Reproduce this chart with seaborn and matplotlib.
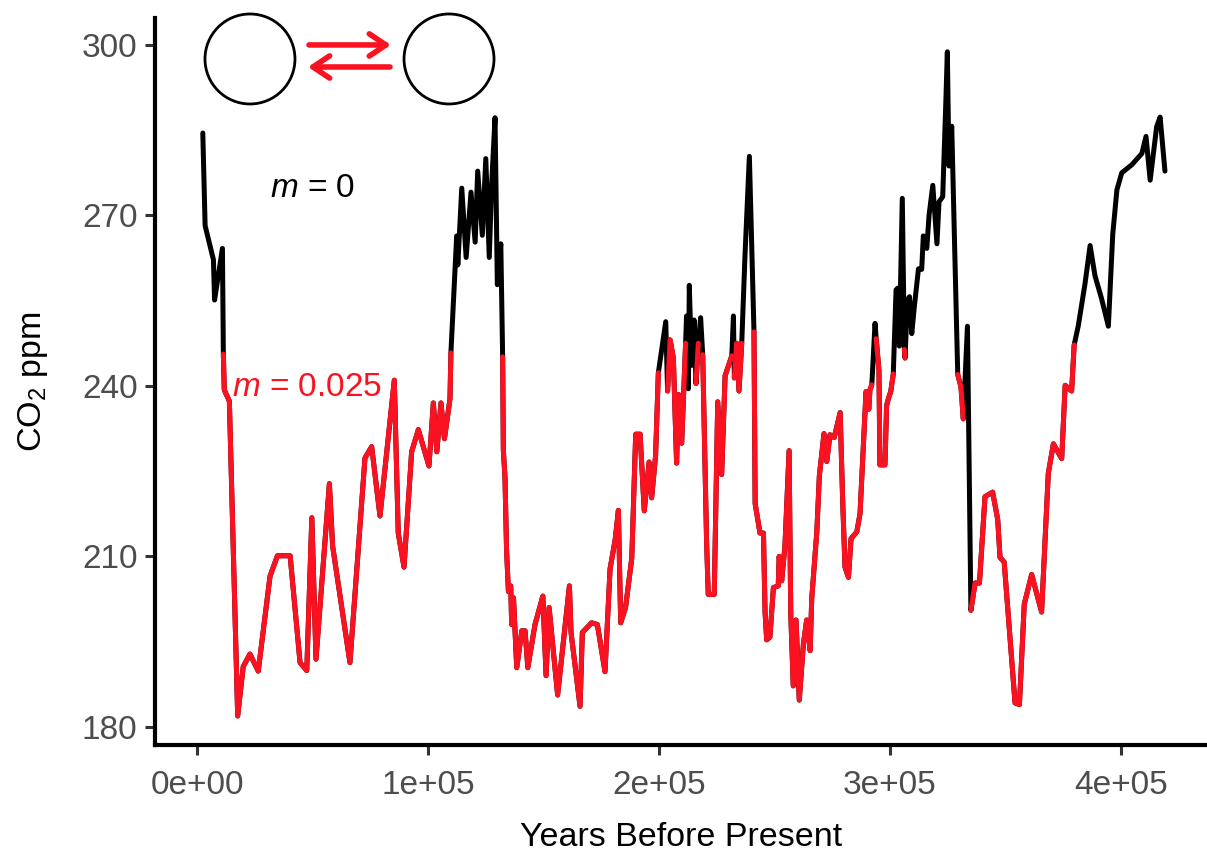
import numpy as np
import pandas as pd
import matplotlib
matplotlib.use("Agg")
import matplotlib.pyplot as plt
from matplotlib.patches import Ellipse
import seaborn as sns

# Ice-core CO2 record: gas age (thousands of years before present) and CO2 (ppm)
years_kyr = [
    2.5, 3.5, 7.1, 7.6, 11.0, 11.4, 11.8, 14.0, 17.6, 20.0,
    22.9, 26.5, 31.6, 34.8, 40.3, 44.6, 47.5, 49.7, 51.5, 57.3,
    58.7, 66.2, 72.7, 75.6, 79.2, 85.4, 87.1, 89.6, 92.9, 95.8,
    100.4, 102.3, 103.8, 105.6, 107.1, 109.5, 109.9, 112.4, 112.9, 114.6,
    116.5, 118.6, 120.4, 121.5, 123.5, 125.0, 126.5, 127.6, 129.0, 130.0,
    131.5, 132.3, 132.6, 133.3, 134.0, 134.8, 135.8, 136.2, 137.0, 138.4,
    140.6, 142.0, 143.2, 146.3, 149.7, 151.1, 152.4, 156.1, 161.2, 161.9,
    165.8, 166.8, 170.8, 173.3, 176.6, 178.8, 181.0, 182.4, 183.4, 185.5,
    188.2, 189.9, 191.8, 193.6, 195.7, 196.8, 198.5, 199.7, 202.9, 203.7,
    204.8, 206.2, 207.6, 208.4, 209.8, 211.5, 211.9, 212.7, 213.1, 214.1,
    215.2, 216.0, 217.0, 218.0, 218.9, 220.6, 221.3, 223.9, 225.4, 227.1,
    228.6, 231.5, 232.2, 232.6, 233.6, 234.6, 235.8, 237.2, 239.1, 241.1,
    241.6, 243.7, 245.2, 245.9, 246.6, 248.0, 249.5, 251.6, 252.0, 253.1,
    254.5, 256.3, 257.0, 258.1, 259.3, 260.7, 262.5, 263.9, 265.4, 266.1,
    268.3, 269.4, 271.4, 272.6, 274.0, 275.8, 278.4, 279.5, 280.5, 282.0,
    283.1, 285.6, 287.0, 289.6, 290.8, 291.3, 292.1, 293.5, 294.0, 295.2,
    295.6, 297.8, 298.5, 299.3, 300.3, 301.4, 302.6, 303.3, 304.0, 305.3,
    306.2, 306.5, 307.5, 308.4, 309.4, 310.5, 312.3, 313.7, 314.4, 315.9,
    316.9, 318.5, 320.3, 321.2, 322.8, 324.1, 324.8, 325.5, 326.7, 329.3,
    330.7, 331.7, 333.5, 335.0, 336.8, 338.7, 341.1, 344.4, 346.6, 347.6,
    349.4, 354.1, 356.0, 358.1, 361.3, 365.6, 368.5, 370.7, 374.3, 375.8,
    378.6, 379.7, 381.5, 384.4, 386.6, 388.7, 391.6, 394.5, 396.4, 398.2,
    400.3, 404.6, 409.0, 410.8, 412.6, 415.4, 416.9, 419.0,
]
co2_ppm = [
    284.5, 268.2, 262.2, 255.1, 264.2, 245.6, 239.3, 237.3, 181.9, 190.6,
    192.8, 189.8, 206.5, 210.1, 210.1, 191.3, 189.9, 216.8, 191.9, 222.8,
    211.8, 191.3, 227.3, 229.3, 217.1, 241.0, 214.1, 208.1, 228.4, 232.3,
    225.9, 237.0, 228.4, 237.0, 230.7, 237.7, 245.8, 266.4, 261.3, 274.8,
    262.6, 274.1, 265.3, 277.8, 266.5, 280.0, 262.6, 275.9, 287.2, 257.8,
    265.0, 245.1, 228.7, 224.0, 211.0, 203.8, 204.8, 198.0, 202.7, 190.4,
    196.9, 196.9, 190.4, 198.0, 203.0, 189.0, 201.0, 185.6, 204.8, 196.6,
    183.6, 196.6, 198.3, 198.0, 189.7, 207.8, 212.9, 218.1, 198.3, 201.0,
    209.7, 231.5, 231.5, 218.0, 226.6, 220.3, 227.7, 242.3, 251.3, 239.1,
    248.1, 244.9, 226.4, 238.5, 229.9, 247.5, 252.3, 239.5, 257.7, 243.6,
    251.6, 240.4, 247.5, 252.0, 245.5, 212.3, 203.3, 203.3, 237.2, 224.4,
    241.8, 245.3, 252.3, 241.4, 247.5, 239.1, 247.5, 262.9, 280.4, 249.5,
    219.3, 214.1, 214.1, 200.1, 195.3, 195.8, 204.5, 204.8, 210.0, 205.7,
    211.8, 228.6, 200.1, 187.2, 198.8, 184.7, 194.6, 198.8, 193.4, 202.6,
    214.3, 224.2, 231.6, 226.7, 231.4, 230.9, 235.3, 219.6, 208.1, 206.3,
    213.1, 214.3, 217.5, 239.0, 235.9, 239.3, 240.2, 251.0, 248.3, 242.7,
    226.1, 226.1, 236.5, 237.8, 239.0, 242.1, 256.9, 257.2, 247.0, 273.0,
    246.4, 244.9, 255.1, 255.7, 249.2, 253.9, 260.6, 260.5, 266.4, 264.2,
    270.1, 275.3, 265.0, 272.4, 273.3, 289.4, 298.8, 278.7, 285.7, 242.0,
    239.8, 234.2, 250.5, 200.5, 205.3, 205.3, 220.5, 221.3, 216.5, 209.8,
    209.0, 184.2, 183.9, 201.6, 206.8, 200.2, 224.6, 229.8, 227.2, 240.1,
    239.1, 247.2, 250.6, 258.0, 264.7, 259.4, 255.3, 250.5, 266.7, 274.5,
    277.5, 278.9, 280.9, 283.9, 276.2, 285.6, 287.3, 277.8,
]

x_ticks = [0, 100000, 200000, 300000, 400000]
x_tick_labels = ["0e+00", "1e+05", "2e+05", "3e+05", "4e+05"]
y_ticks = [180, 210, 240, 270, 300]

# level below which the record is traced as the m = 0.025 regime
CUTOFF = 250.0

RED = "#FC1121"
TICK_GREY = "#4D4D4D"
LINE_W = 3.6

sns.set_theme(style="ticks")
plt.rcParams["font.family"] = ["Liberation Sans", "DejaVu Sans"]
plt.rcParams["mathtext.fontset"] = "custom"
plt.rcParams["mathtext.rm"] = "Liberation Sans"
plt.rcParams["mathtext.it"] = "Liberation Sans:italic"
plt.rcParams["lines.solid_joinstyle"] = "round"

df = pd.DataFrame({"year": np.array(years_kyr) * 1000.0, "co2": co2_ppm})
low = df["co2"] <= CUTOFF
df["run"] = (low != low.shift()).cumsum()
low_df = df[low]

fig = plt.figure(figsize=(12.07, 8.56), dpi=100)
ax = fig.add_axes([0.1284, 0.1297, 0.8716, 0.8493])

sns.lineplot(data=df, x="year", y="co2", color="black", lw=LINE_W,
             estimator=None, sort=False, ax=ax)
sns.lineplot(data=low_df, x="year", y="co2", units="run", color=RED,
             lw=LINE_W, estimator=None, sort=False, ax=ax, legend=False)

ax.set_xlim(-18200, 437200)
ax.set_ylim(176.8, 304.75)
ax.set_xticks(x_ticks)
ax.set_xticklabels(x_tick_labels)
ax.set_yticks(y_ticks)
ax.set_yticklabels([str(v) for v in y_ticks])

for side in ("top", "right"):
    ax.spines[side].set_visible(False)
for side in ("left", "bottom"):
    ax.spines[side].set_linewidth(3.0)
    ax.spines[side].set_color("black")
    ax.spines[side].set_capstyle("projecting")
ax.tick_params(axis="both", length=7.5, width=2.2, color="#333333",
               labelsize=24, labelcolor=TICK_GREY)
ax.tick_params(axis="x", pad=10.5)
ax.tick_params(axis="y", pad=5)

ax.set_xlabel("Years Before Present", fontsize=24.5, color="black", labelpad=15)
ax.set_ylabel("CO$_2$ ppm", fontsize=24.5, color="black", labelpad=23)

# two-state schematic: a pair of boxes exchanging in both directions
for cx in (0.0903, 0.2795):
    ax.add_patch(Ellipse((cx, 0.9436), width=90 / 1052, height=90 / 727,
                         transform=ax.transAxes, fill=False,
                         edgecolor="black", lw=2.0, clip_on=False))
arrow_style = dict(arrowstyle="->,head_length=0.6,head_width=0.4",
                   color=RED, lw=4.0, mutation_scale=20,
                   shrinkA=0, shrinkB=0)
ax.annotate("", xy=(0.2243, 0.9629), xytext=(0.1464, 0.9629),
            xycoords="axes fraction", textcoords="axes fraction",
            arrowprops=arrow_style)
ax.annotate("", xy=(0.1454, 0.9326), xytext=(0.2234, 0.9326),
            xycoords="axes fraction", textcoords="axes fraction",
            arrowprops=arrow_style)

ax.text(0.150, 0.766, "$m$ = 0", transform=ax.transAxes, fontsize=24,
        color="black", ha="center", va="center")
ax.text(0.0732, 0.4924, "$m$ = 0.025", transform=ax.transAxes, fontsize=24,
        color=RED, ha="left", va="center")

fig.savefig("out.png", dpi=100)
